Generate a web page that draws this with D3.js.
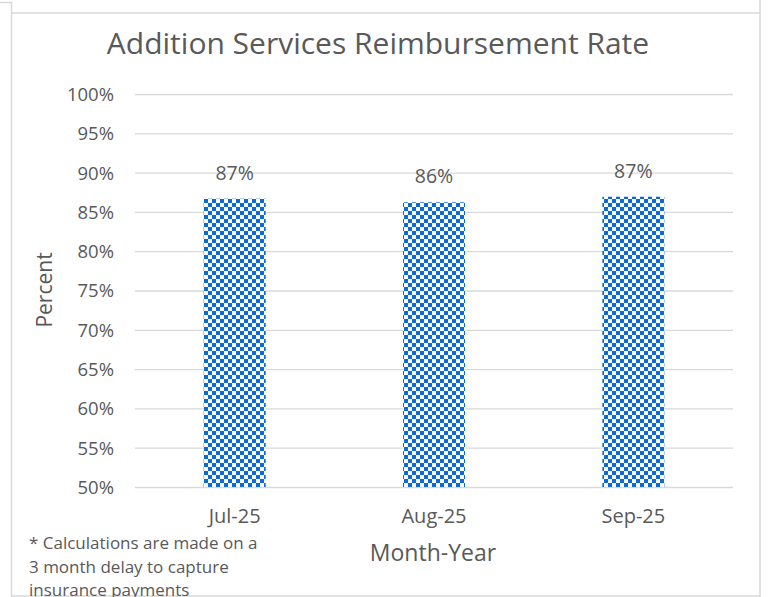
<!DOCTYPE html>
<html>
<head>
<meta charset="utf-8">
<script src="https://cdn.jsdelivr.net/npm/d3@7"></script>
<style>
  html, body { margin: 0; padding: 0; background: #fff; }
  svg { display: block; }
  text { font-family: "Open Sans", "Noto Sans", sans-serif; fill: #595959; }
</style>
</head>
<body>
<svg id="chart" width="770" height="597"></svg>
<script>
// ---- data ----
const categories = ["Jul-25", "Aug-25", "Sep-25"];
const rates = [0.8668, 0.8622, 0.8693];
const rateLabels = ["87%", "86%", "87%"];
const yTicks = [0.50, 0.55, 0.60, 0.65, 0.70, 0.75, 0.80, 0.85, 0.90, 0.95, 1.00];
const titleText = "Addition Services Reimbursement Rate";
const xTitle = "Month-Year";
const yTitle = "Percent";
const footnoteLines = ["* Calculations are made on a", "3 month delay to capture", "insurance payments"];

// ---- layout ----
const W = 770, H = 597;
const plot = { left: 135, right: 733, top: 94, bottom: 487 };
const svg = d3.select("#chart");

// pattern
const defs = svg.append("defs");
const pat = defs.append("pattern")
  .attr("id", "checker")
  .attr("patternUnits", "userSpaceOnUse")
  .attr("width", 8).attr("height", 8)
  .attr("x", 0).attr("y", 3);
pat.append("rect").attr("width", 8).attr("height", 8).attr("fill", "#ffffff");
pat.append("rect").attr("x", 0).attr("y", 0).attr("width", 4).attr("height", 4).attr("fill", "#0a6ad6");
pat.append("rect").attr("x", 4).attr("y", 4).attr("width", 4).attr("height", 4).attr("fill", "#0a6ad6");

// frame lines
const frame = svg.append("g").attr("stroke", "#d9d9d9").attr("stroke-width", 1.5).attr("fill", "none");
frame.append("path").attr("d", `M0,2.5 H11.5 V${H}`);
frame.append("path").attr("d", `M11.5,13 H760 M760,0 V${H} M11.5,596 H760`);

// scales
const x = d3.scaleBand().domain(categories).range([plot.left, plot.right])
  .paddingInner(0.689).paddingOuter(0.3445);
const y = d3.scaleLinear().domain([0.5, 1.0]).range([plot.bottom, plot.top]);

// gridlines
const grid = svg.append("g").attr("transform", `translate(${plot.left},0)`)
  .call(d3.axisLeft(y).tickValues(yTicks).tickSize(-(plot.right - plot.left)).tickFormat(""));
grid.select(".domain").remove();
grid.selectAll("line").attr("stroke", "#d9d9d9").attr("stroke-width", 1.3);

// y axis labels
const yAxis = svg.append("g").attr("transform", `translate(${plot.left - 21},0)`)
  .call(d3.axisLeft(y).tickValues(yTicks).tickSize(0).tickPadding(0).tickFormat(d3.format(".0%")));
yAxis.select(".domain").remove();
yAxis.selectAll("text").attr("font-size", 18.5).attr("fill", "#595959")
  .style("font-family", '"Open Sans", sans-serif').attr("dy", "0.35em");

// x axis labels
const xAxis = svg.append("g").attr("transform", `translate(0,${plot.bottom})`)
  .call(d3.axisBottom(x).tickSize(0).tickPadding(0));
xAxis.select(".domain").remove();
xAxis.selectAll("text").attr("font-size", 20).attr("fill", "#595959")
  .style("font-family", '"Open Sans", sans-serif').attr("y", 36).attr("dy", 0);

// bars
svg.append("g").selectAll("rect").data(categories).join("rect")
  .attr("x", d => x(d))
  .attr("width", x.bandwidth())
  .attr("y", (d, i) => y(rates[i]))
  .attr("height", (d, i) => y(0.5) - y(rates[i]))
  .attr("fill", "url(#checker)");

// data labels
svg.append("g").selectAll("text").data(categories).join("text")
  .attr("x", d => x(d) + x.bandwidth() / 2)
  .attr("y", (d, i) => y(rates[i]) - 19)
  .attr("text-anchor", "middle")
  .attr("font-size", 19.5)
  .text((d, i) => rateLabels[i]);

// title
svg.append("text").attr("x", 378).attr("y", 54).attr("text-anchor", "middle")
  .attr("font-size", 30).text(titleText);

// axis titles
svg.append("text").attr("x", 433).attr("y", 561).attr("text-anchor", "middle")
  .attr("font-size", 23).text(xTitle);
svg.append("text").attr("transform", "translate(52,290) rotate(-90)").attr("text-anchor", "middle")
  .attr("font-size", 21).text(yTitle);

// footnote
svg.append("g").selectAll("text").data(footnoteLines).join("text")
  .attr("x", 29).attr("y", (d, i) => 549 + i * 23.5)
  .attr("font-size", 17).text(d => d);
</script>
</body>
</html>
